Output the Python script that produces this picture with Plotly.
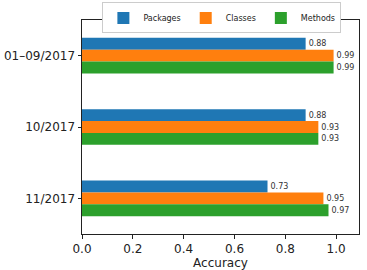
import plotly.graph_objects as go

categories = ["01–09/2017", "10/2017", "11/2017"]
packages = [0.88, 0.88, 0.73]
classes = [0.99, 0.93, 0.95]
methods = [0.99, 0.93, 0.97]
series_names = ["Packages", "Classes", "Methods"]
colors = ["#1f77b4", "#ff7f0e", "#2ca02c"]
x_ticks = [0.0, 0.2, 0.4, 0.6, 0.8, 1.0]

fig = go.Figure()
for name, vals, c in zip(series_names, [packages, classes, methods], colors):
    fig.add_trace(go.Bar(
        y=categories, x=vals, name=name, orientation="h",
        marker=dict(color=c, line=dict(width=0)),
        text=[f"{v:.2f}" for v in vals], textposition="outside",
        textfont=dict(size=8, color="#333333", family="DejaVu Sans"),
        constraintext="none",
        cliponaxis=False,
    ))

fig.update_layout(
    width=367, height=270,
    margin=dict(l=82, r=8, t=20, b=36, autoexpand=False),
    paper_bgcolor="white", plot_bgcolor="white",
    barmode="group", bargap=0.5, bargroupgap=0,
    font=dict(family="DejaVu Sans", color="#222222"),
    legend=dict(orientation="h", x=0.505, xanchor="center", y=1.082, yanchor="top",
                font=dict(size=8, family="DejaVu Sans"), bordercolor="#cccccc", borderwidth=1,
                itemwidth=30, tracegroupgap=0),
    xaxis=dict(range=[0, 1.09], tickvals=x_ticks, ticktext=[f"{t:.1f}" for t in x_ticks],
               ticks="outside", ticklen=3.5, tickcolor="#222222", automargin=False,
               showline=True, linecolor="#222222", linewidth=1, mirror=True,
               showgrid=False, zeroline=False, tickfont=dict(size=12, family="DejaVu Sans"),
               title=dict(text="Accuracy", font=dict(size=12, family="DejaVu Sans"), standoff=0)),
    yaxis=dict(range=[2.5, -0.5], ticks="outside", ticklen=3.5, tickcolor="#222222",
               automargin=False,
               showline=True, linecolor="#222222", linewidth=1, mirror=True,
               showgrid=False, tickfont=dict(size=12, family="DejaVu Sans")),
)
fig.write_html("out.html")
